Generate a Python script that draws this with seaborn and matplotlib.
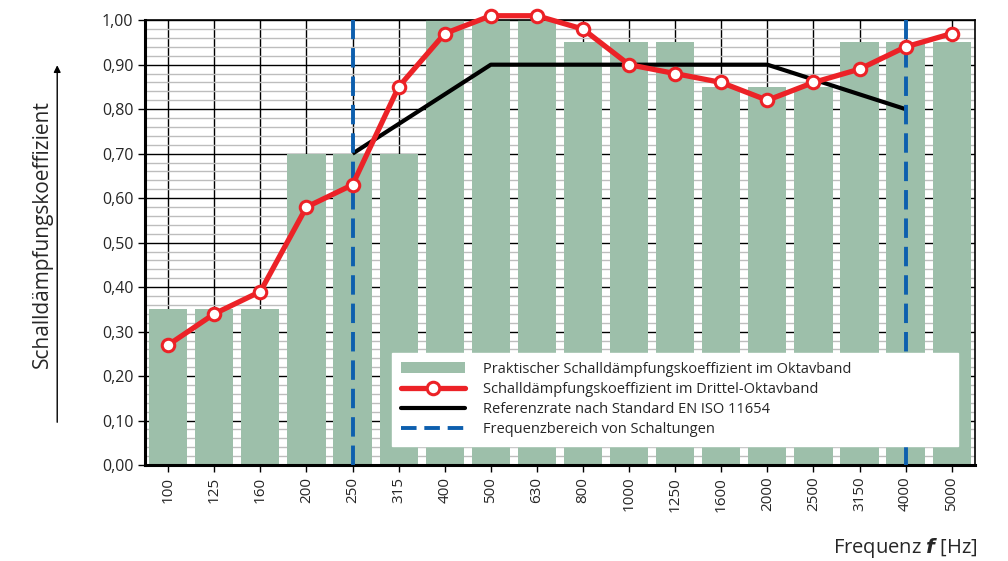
import numpy as np
import pandas as pd
import seaborn as sns
import matplotlib.pyplot as plt
from matplotlib.patches import Patch
from matplotlib.lines import Line2D
from matplotlib.ticker import MultipleLocator, FuncFormatter

# data
freqs = ['100', '125', '160', '200', '250', '315', '400', '500', '630', '800',
         '1000', '1250', '1600', '2000', '2500', '3150', '4000', '5000']
octave_band = [0.35, 0.35, 0.35, 0.70, 0.70, 0.70, 1.00, 1.00, 1.00,
               0.95, 0.95, 0.95, 0.85, 0.85, 0.85, 0.95, 0.95, 0.95]
third_octave = [0.27, 0.34, 0.39, 0.58, 0.63, 0.85, 0.97, 1.01, 1.01,
                0.98, 0.90, 0.88, 0.86, 0.82, 0.86, 0.89, 0.94, 0.97]
ref_freqs = ['250', '500', '2000', '4000']
ref_values = [0.70, 0.90, 0.90, 0.80]
range_freqs = ['250', '4000']

BAR = '#9dbfaa'
RED = '#ec2227'
BLUE = '#0d5fae'

sns.set_style('white')
plt.rcParams['font.family'] = ['Open Sans', 'DejaVu Sans']

df = pd.DataFrame({'freq': freqs, 'octave': octave_band, 'third': third_octave})

fig, ax = plt.subplots(figsize=(10.08, 5.61), dpi=100)
fig.subplots_adjust(left=0.144, right=0.967, top=0.964, bottom=0.171)

sns.barplot(data=df, x='freq', y='octave', order=freqs, color=BAR,
            saturation=1, width=0.83, linewidth=0, ax=ax, zorder=2)

pos = {f: i for i, f in enumerate(freqs)}
ax.plot([pos[f] for f in ref_freqs], ref_values, color='black', lw=3,
        zorder=3, solid_capstyle='butt')
ax.plot([pos[f] for f in freqs], df['third'], color=RED, lw=3.8, marker='o',
        ms=9, mfc='white', mec=RED, mew=2.2, zorder=5, clip_on=False)
for f in range_freqs:
    ax.axvline(pos[f], color=BLUE, lw=2.8, ls=(0, (5, 2.3)), zorder=4)

ax.set_xlim(-0.5, len(freqs) - 0.5)
ax.set_ylim(0, 1.0)
ax.yaxis.set_major_locator(MultipleLocator(0.1))
ax.yaxis.set_minor_locator(MultipleLocator(0.02))
ax.yaxis.set_major_formatter(FuncFormatter(lambda v, p: f'{v:.2f}'.replace('.', ',')))
ax.set_axisbelow(True)
ax.grid(which='minor', axis='y', color='#bdbdbd', lw=1, ls='-')
ax.grid(which='major', axis='y', color='black', lw=1, ls='-')
ax.grid(which='major', axis='x', color='black', lw=1, ls='-')

ax.tick_params(axis='x', labelrotation=90, labelsize=11, length=5, width=1,
               bottom=True, color='black')
ax.tick_params(axis='y', labelsize=11.5, length=5, width=1, left=True, color='black')
ax.tick_params(axis='y', which='minor', left=False)
for s in ['left', 'bottom']:
    ax.spines[s].set_linewidth(2.2)
    ax.spines[s].set_color('black')
for s in ['top', 'right']:
    ax.spines[s].set_linewidth(1.2)
    ax.spines[s].set_color('black')

ax.set_xlabel('')
ax.set_ylabel('')
ax.text(-0.124, 0.52, 'Schalldämpfungskoeffizient', rotation=90, fontsize=15,
        ha='center', va='center', transform=ax.transAxes)
ax.annotate('', xy=(-0.106, 0.905), xytext=(-0.106, 0.09),
            xycoords='axes fraction',
            arrowprops=dict(arrowstyle='-|>', color='black', lw=1, mutation_scale=10))
ax.text(1.003, -0.187, r'Frequenz $\boldsymbol{f}$ [Hz]', fontsize=14.5,
        ha='right', va='center', transform=ax.transAxes)

handles = [
    Patch(facecolor=BAR, edgecolor='none'),
    Line2D([], [], color=RED, lw=3.8, marker='o', ms=9, mfc='white', mec=RED, mew=2.2),
    Line2D([], [], color='black', lw=3),
    Line2D([], [], color=BLUE, lw=2.8, ls=(0, (4, 2))),
]
labels = ['Praktischer Schalldämpfungskoeffizient im Oktavband',
          'Schalldämpfungskoeffizient im Drittel-Oktavband',
          'Referenzrate nach Standard EN ISO 11654',
          'Frequenzbereich von Schaltungen']
leg = ax.legend(handles, labels, loc='lower left',
                bbox_to_anchor=(0.2976, 0.0427, 0.682, 0.216), mode='expand',
                borderaxespad=0, fontsize=10.5, frameon=True, fancybox=False,
                framealpha=1, edgecolor='white', handlelength=4.4,
                handletextpad=1.25, labelspacing=0.36, borderpad=0.6)
leg.set_zorder(6)

plt.savefig('out.png', dpi=100)
